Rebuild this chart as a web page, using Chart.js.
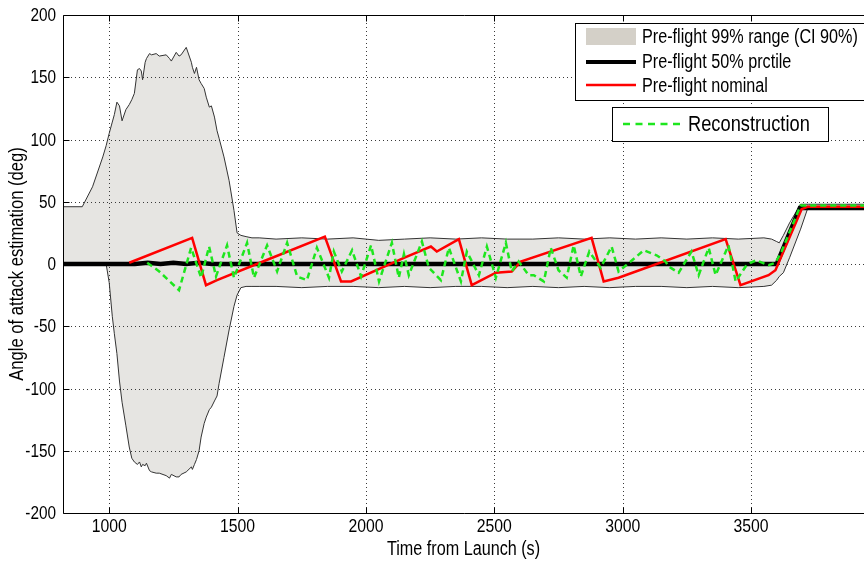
<!DOCTYPE html>
<html>
<head>
<meta charset="utf-8">
<script src="https://cdn.jsdelivr.net/npm/chart.js@4.4.0/dist/chart.umd.min.js"></script>
<style>
  html, body { margin: 0; padding: 0; background: #fff; }
  #wrap { width: 864px; height: 563px; position: relative; overflow: hidden; }
</style>
</head>
<body>
<div id="wrap"><canvas id="c" width="864" height="563"></canvas></div>
<script>
const FONT = '"Liberation Sans", Arial, sans-serif';
const NARROW = 0.83;   // horizontal squeeze for the condensed Helvetica look

// Axis ticks
const xTicks = [1000, 1500, 2000, 2500, 3000, 3500];
const yTicks = [-200, -150, -100, -50, 0, 50, 100, 150, 200];

// Pre-flight 99% envelope (shared time base for upper / lower bounds)
const envTime = [820, 895, 935, 975, 988, 1000, 1012, 1020, 1030, 1040, 1050, 1065, 1078, 1088, 1098,
  1110, 1118, 1125, 1130, 1140, 1145, 1157, 1165, 1183, 1195, 1222, 1235, 1242, 1261, 1272, 1280,
  1300, 1320, 1324, 1332, 1340, 1350, 1358, 1370, 1378, 1390, 1398, 1410, 1420, 1428, 1447, 1467,
  1486, 1498, 1513, 1533, 1556, 1584, 1650, 1750, 1850, 1950, 2050, 2150, 2250, 2350, 2450, 2550,
  2650, 2750, 2850, 2950, 3050, 3150, 3250, 3350, 3450, 3550, 3580, 3600, 3610, 3626, 3650, 3693,
  3723, 4000];
const envUpper = [46, 46, 62, 86, 95, 105, 114, 120, 130, 127, 115, 124, 128, 132, 137,
  156, 157, 155, 148, 162, 165, 169, 168, 169, 167, 168, 165, 163, 170, 167, 168,
  174, 162, 158, 153, 158, 148, 145, 141, 134, 126, 127, 118, 107, 101, 86, 67,
  43, 25, 23, 22, 21, 21, 20, 21, 20, 21, 19, 20, 21, 20, 21, 20,
  20, 21, 20, 21, 20, 21, 20, 21, 20, 21, 20, 18, 17, 23, 33, 48,
  48, 48];
const envLower = [0, 0, 0, 0, 0, -15, -42, -56, -72, -94, -111, -130, -147, -156, -159,
  -161, -159, -163, -161, -162, -160, -166, -167, -168, -168, -170, -172, -169, -171, -171, -169,
  -167, -163, -165, -161, -157, -150, -139, -128, -123, -117, -115, -110, -106, -96, -75, -53,
  -34, -25, -19, -18, -18, -18, -18, -19, -18, -18, -19, -18, -19, -18, -18, -19,
  -18, -19, -18, -19, -18, -18, -19, -18, -19, -18, -17, -13, -10, -7, 5, 28,
  46, 46];

// Pre-flight 50% percentile
const medianTime  = [820, 1100, 1150, 1200, 1250, 1300, 1350, 1400, 3600, 3690, 4000];
const medianValue = [0, 0, 1, 0, 1, 0, 1, 0, 0, 45, 45];

// Pre-flight nominal
const nominalTime  = [1078, 1323, 1377, 1420, 1611, 1840, 1903, 1942, 2148, 2253, 2276, 2362, 2412,
  2506, 2568, 2603, 2879, 2926, 2984, 3401, 3459, 3568, 3595, 3697, 3720, 4000];
const nominalValue = [1, 21, -17, -13, 3, 22, -14, -14, 5, 14, 10, 20, -17,
  -7, -6, 2, 21, -14, -11, 20, -17, -9, -5, 44, 46, 46];

// Reconstruction
const reconTime = [1148, 1195, 1272, 1319, 1358, 1389, 1416, 1459, 1486, 1537, 1564, 1615, 1654,
  1693, 1732, 1770, 1809, 1856, 1875, 1906, 1946, 1981, 2020, 2051, 2101, 2128, 2148, 2167, 2218,
  2245, 2292, 2323, 2370, 2393, 2440, 2471, 2506, 2545, 2568, 2595, 2634, 2654, 2693, 2720, 2750,
  2782, 2809, 2837, 2870, 2914, 2957, 2984, 3031, 3082, 3132, 3167, 3179, 3218, 3268, 3296, 3335,
  3362, 3412, 3440, 3479, 3498, 3521, 3568, 3595, 3619, 3693, 4000];
const reconValue = [1, -6, -21, 13, -11, 14, -10, 15, -11, 17, -11, 15, -6,
  17, -10, -13, 13, -11, 10, -6, 11, -10, 15, -14, 17, -11, 8, -9, 18,
  -3, -13, 13, -14, 10, -9, 14, -11, 17, -6, 2, -9, -9, -14, 13, -5,
  -11, 15, -10, 10, -3, 14, -6, 2, 11, 7, 2, -2, -7, 10, -9, 13,
  -9, 15, -14, -2, 1, 3, -1, 1, 10, 47, 47];

const pts = (xs, ys) => xs.map((x, i) => ({ x: x, y: ys[i] }));

// Condensed text: squeeze glyphs horizontally around the anchor point
function narrowText(ctx, text, x, y, size, align, rotate) {
  ctx.save();
  ctx.translate(x, y);
  if (rotate) ctx.rotate(-Math.PI / 2);
  ctx.scale(NARROW, 1);
  ctx.font = size + 'px ' + FONT;
  ctx.textAlign = align;
  ctx.textBaseline = 'middle';
  ctx.fillStyle = '#000';
  ctx.fillText(text, 0, 0);
  ctx.restore();
}

const framePlugin = {
  id: 'frame',
  // dotted grid over the envelope fill, under the curves
  beforeDatasetsDraw(chart) {
    const { ctx, chartArea: a, scales: { x, y } } = chart;
    ctx.save();
    ctx.strokeStyle = '#3a3a3a';
    ctx.lineWidth = 1;
    ctx.setLineDash([1, 3]);
    x.ticks.forEach(t => {
      const px = Math.round(x.getPixelForValue(t.value)) + 0.5;
      ctx.beginPath(); ctx.moveTo(px, a.top); ctx.lineTo(px, a.bottom); ctx.stroke();
    });
    y.ticks.forEach(t => {
      if (t.value === y.min || t.value === y.max) return;
      const py = Math.round(y.getPixelForValue(t.value)) + 0.5;
      ctx.beginPath(); ctx.moveTo(a.left, py); ctx.lineTo(a.right, py); ctx.stroke();
    });
    ctx.restore();
  },
  // axis box, inward tick marks, tick labels and axis titles
  afterDatasetsDraw(chart) {
    const { ctx, chartArea: a, scales: { x, y } } = chart;
    ctx.save();
    ctx.strokeStyle = '#000';
    ctx.lineWidth = 1;
    const L = Math.round(a.left) + 0.5, B = Math.round(a.bottom) + 0.5, T = Math.round(a.top) + 0.5;
    ctx.beginPath();
    ctx.moveTo(a.right + 2, T); ctx.lineTo(L, T); ctx.lineTo(L, B); ctx.lineTo(a.right + 2, B);
    ctx.stroke();
    x.ticks.forEach(t => {
      const px = Math.round(x.getPixelForValue(t.value)) + 0.5;
      ctx.beginPath(); ctx.moveTo(px, B); ctx.lineTo(px, B - 6); ctx.stroke();
      ctx.beginPath(); ctx.moveTo(px, T); ctx.lineTo(px, T + 6); ctx.stroke();
      narrowText(ctx, String(t.value), x.getPixelForValue(t.value), B + 13, 19, 'center');
    });
    y.ticks.forEach(t => {
      const py = Math.round(y.getPixelForValue(t.value)) + 0.5;
      ctx.beginPath(); ctx.moveTo(L, py); ctx.lineTo(L + 6, py); ctx.stroke();
      narrowText(ctx, String(t.value), 56, py, 18.5, 'right');
    });
    ctx.restore();
    narrowText(ctx, 'Time from Launch (s)', (a.left + a.right) / 2, 550, 19.5, 'center');
    narrowText(ctx, 'Angle of attack estimation (deg)', 17, (a.top + a.bottom) / 2, 20, 'center', true);
  },
  afterDraw(chart) {
    const ctx = chart.ctx;
    ctx.save();
    // main legend
    ctx.fillStyle = '#fff';
    ctx.fillRect(575.5, 23.5, 300, 77);
    ctx.strokeStyle = '#000';
    ctx.lineWidth = 1;
    ctx.strokeRect(575.5, 23.5, 300, 77);
    ctx.fillStyle = '#d4d0c8';
    ctx.fillRect(586, 28, 50, 17);
    ctx.lineWidth = 4; ctx.strokeStyle = '#000';
    ctx.beginPath(); ctx.moveTo(586, 62); ctx.lineTo(636, 62); ctx.stroke();
    ctx.lineWidth = 2.5; ctx.strokeStyle = '#ff0000';
    ctx.beginPath(); ctx.moveTo(586, 85); ctx.lineTo(636, 85); ctx.stroke();
    ctx.restore();
    narrowText(ctx, 'Pre-flight 99% range (CI 90%)', 642, 38, 19.5, 'left');
    narrowText(ctx, 'Pre-flight 50% prctile', 642, 63, 19.5, 'left');
    narrowText(ctx, 'Pre-flight nominal', 642, 87, 19.5, 'left');
    // reconstruction legend
    ctx.save();
    ctx.fillStyle = '#fff';
    ctx.fillRect(612.5, 107.5, 216, 34);
    ctx.lineWidth = 1; ctx.strokeStyle = '#000';
    ctx.strokeRect(612.5, 107.5, 216, 34);
    ctx.lineWidth = 2.5; ctx.strokeStyle = '#1ee61e';
    ctx.setLineDash([7, 5.5]);
    ctx.beginPath(); ctx.moveTo(623, 124); ctx.lineTo(681, 124); ctx.stroke();
    ctx.restore();
    narrowText(ctx, 'Reconstruction', 688, 125, 22, 'left');
  }
};

new Chart(document.getElementById('c'), {
  type: 'line',
  data: {
    datasets: [
      { label: 'Pre-flight 99% range (CI 90%)', data: pts(envTime, envUpper), borderColor: '#333',
        borderWidth: 1, backgroundColor: '#e6e5e2', fill: '+1', pointRadius: 0, tension: 0, order: 4 },
      { label: 'lower', data: pts(envTime, envLower), borderColor: '#333', borderWidth: 1,
        fill: false, pointRadius: 0, tension: 0, order: 4 },
      { label: 'Pre-flight 50% prctile', data: pts(medianTime, medianValue), borderColor: '#000',
        borderWidth: 4.5, fill: false, pointRadius: 0, tension: 0, order: 2 },
      { label: 'Pre-flight nominal', data: pts(nominalTime, nominalValue), borderColor: '#ff0000',
        borderWidth: 2.5, fill: false, pointRadius: 0, tension: 0, order: 1 },
      { label: 'Reconstruction', data: pts(reconTime, reconValue), borderColor: '#1ee61e',
        borderWidth: 2.5, borderDash: [6, 4], fill: false, pointRadius: 0, tension: 0, order: 0 }
    ]
  },
  options: {
    responsive: false,
    animation: false,
    devicePixelRatio: 1,
    layout: { padding: { top: 15, right: 0, left: 0, bottom: 0 } },
    plugins: {
      legend: { display: false },
      tooltip: { enabled: false },
      filler: { drawTime: 'beforeDatasetsDraw' }
    },
    scales: {
      x: {
        type: 'linear', position: 'bottom', min: 820, max: 3940,
        grid: { display: false, drawTicks: false },
        border: { display: false },
        afterBuildTicks: s => { s.ticks = xTicks.map(v => ({ value: v })); },
        afterFit: s => { s.height = 50; },
        ticks: { display: false }
      },
      y: {
        type: 'linear', min: -200, max: 200,
        grid: { display: false, drawTicks: false },
        border: { display: false },
        afterBuildTicks: s => { s.ticks = yTicks.map(v => ({ value: v })); },
        afterFit: s => { s.width = 63; },
        ticks: { display: false }
      }
    }
  },
  plugins: [framePlugin]
});
</script>
</body>
</html>
